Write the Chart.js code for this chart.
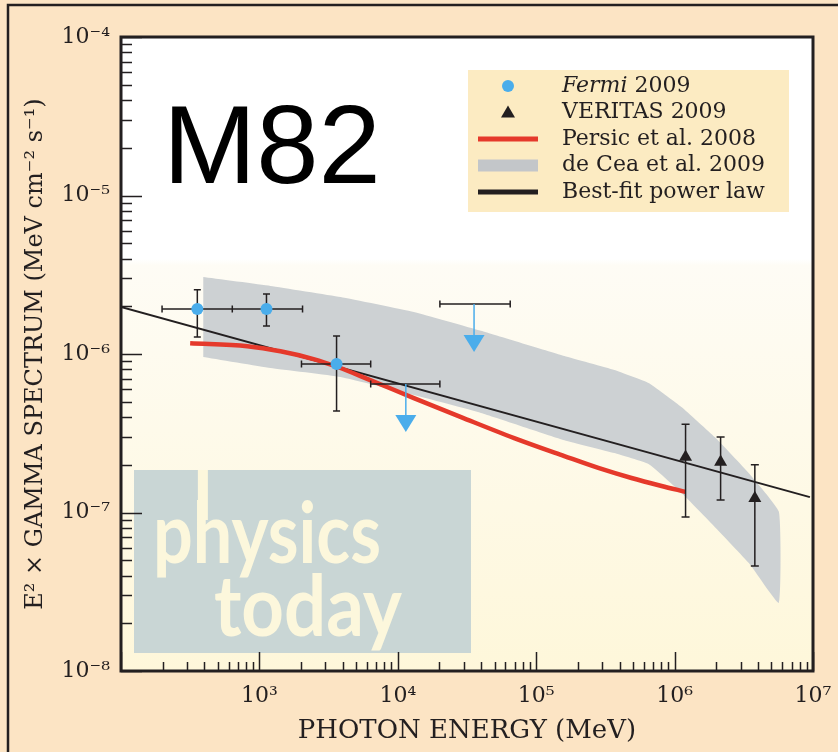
<!DOCTYPE html>
<html>
<head>
<meta charset="utf-8">
<title>M82 gamma-ray spectrum</title>
<script src="https://cdn.jsdelivr.net/npm/chart.js@4.4.1/dist/chart.umd.min.js"></script>
<style>
  html, body { margin: 0; padding: 0; background: #fce4c4; }
  #m82-spectrum { display: block; }
</style>
</head>
<body>
<canvas id="m82-spectrum" width="838" height="752"></canvas>
<script>
// axis ticks
const xTickValues = [1e2, 1e3, 1e4, 1e5, 1e6, 1e7];
const xTickLabels = ["", "10³", "10⁴", "10⁵", "10⁶", "10⁷"];
const yTickValues = [1e-8, 1e-7, 1e-6, 1e-5, 1e-4];
const yTickLabels = ["10⁻⁸", "10⁻⁷", "10⁻⁶", "10⁻⁵", "10⁻⁴"];

// Fermi 2009 points (MeV, MeV cm^-2 s^-1)
const fermiE = [356, 1125, 3610];
const fermiF = [1.92e-6, 1.92e-6, 8.65e-7];
const fermiELo = [198, 637, 2014];
const fermiEHi = [637, 2050, 6370];
const fermiFLo = [1.28e-6, 1.5e-6, 4.37e-7];
const fermiFHi = [2.54e-6, 2.39e-6, 1.3e-6];

// Fermi upper limits
const limitE = [11430, 35560];
const limitF = [6.47e-7, 2.07e-6];
const limitELo = [6370, 20140];
const limitEHi = [20140, 64900];

// VERITAS 2009 points
const veritasE = [1.2e6, 2.15e6, 3.8e6];
const veritasF = [2.24e-7, 2.08e-7, 1.23e-7];
const veritasFLo = [9.38e-8, 1.2e-7, 4.59e-8];
const veritasFHi = [3.61e-7, 2.99e-7, 2.0e-7];

// Persic et al. 2008 model
const persicE = [316, 818, 1419, 2460, 3670, 6070, 13060, 28640, 69300, 1.596e5, 2.81e5, 4.88e5, 8.05e5, 1.2e6];
const persicF = [1.17e-6, 1.12e-6, 1.04e-6, 9.29e-7, 8.28e-7, 6.95e-7, 5.27e-7, 4.0e-7, 2.95e-7, 2.27e-7, 1.91e-7, 1.65e-7, 1.47e-7, 1.35e-7];

// de Cea et al. 2009 band
const bandE = [393, 1202, 3860, 13060, 39900, 1.6e5, 3.67e5, 6.48e5, 1.12e6, 1.95e6, 3.44e6, 5.67e6];
const bandHi = [3.06e-6, 2.69e-6, 2.29e-6, 1.84e-6, 1.4e-6, 9.7e-7, 7.92e-7, 6.56e-7, 4.63e-7, 2.99e-7, 1.77e-7, 1.01e-7];
const bandLo = [9.57e-7, 8.16e-7, 7.16e-7, 5.51e-7, 4.25e-7, 2.86e-7, 2.37e-7, 2.02e-7, 1.33e-7, 8.11e-8, 4.8e-8, 2.69e-8];

// best-fit power law
const fitE = [1e2, 9.5e6];
const fitF = [1.98e-6, 1.25e-7];

const INK = "#231f20";
const BLUE = "#4aadeb";
const RED = "#e5392b";
const GREY = "#cdd1d3";
const SERIF = "'DejaVu Serif', serif";

const toPoints = (xs, ys) => xs.map((x, i) => ({ x, y: ys[i] }));

// inward log ticks along the left and bottom frame
const drawInwardTicks = (ctx, scale, area, horizontal, majorLen, minorLen) => {
  const lo = Math.round(Math.log10(scale.min));
  const hi = Math.round(Math.log10(scale.max));
  ctx.beginPath();
  for (let d = lo; d <= hi; d++) {
    for (let m = 1; m <= 9; m++) {
      const v = m * Math.pow(10, d);
      if (v > scale.max * 1.001) continue;
      const p = Math.round(scale.getPixelForValue(v)) + 0.5;
      const len = m === 1 ? majorLen : minorLen;
      if (horizontal) {
        ctx.moveTo(p, area.bottom);
        ctx.lineTo(p, area.bottom - len);
      } else {
        ctx.moveTo(area.left, p);
        ctx.lineTo(area.left + len, p);
      }
    }
  }
  ctx.stroke();
};

const drawErrorBars = (chart) => {
  const { ctx } = chart;
  const xs = chart.scales.x;
  const ys = chart.scales.y;
  ctx.save();
  ctx.strokeStyle = INK;
  ctx.lineWidth = 1.5;
  ctx.beginPath();
  const vBar = (x, y0, y1, cap) => {
    const px = xs.getPixelForValue(x);
    const p0 = ys.getPixelForValue(y0);
    const p1 = ys.getPixelForValue(y1);
    ctx.moveTo(px, p0); ctx.lineTo(px, p1);
    ctx.moveTo(px - cap, p0); ctx.lineTo(px + cap, p0);
    ctx.moveTo(px - cap, p1); ctx.lineTo(px + cap, p1);
  };
  const hBar = (x0, x1, y, cap) => {
    const py = ys.getPixelForValue(y);
    const p0 = xs.getPixelForValue(x0);
    const p1 = xs.getPixelForValue(x1);
    ctx.moveTo(p0, py); ctx.lineTo(p1, py);
    ctx.moveTo(p0, py - cap); ctx.lineTo(p0, py + cap);
    ctx.moveTo(p1, py - cap); ctx.lineTo(p1, py + cap);
  };
  fermiE.forEach((e, i) => {
    vBar(e, fermiFLo[i], fermiFHi[i], 3.5);
    hBar(fermiELo[i], fermiEHi[i], fermiF[i], 3.5);
  });
  veritasE.forEach((e, i) => vBar(e, veritasFLo[i], veritasFHi[i], 4));
  limitE.forEach((e, i) => hBar(limitELo[i], limitEHi[i], limitF[i], 3.5));
  ctx.stroke();

  // upper limit arrows
  limitE.forEach((e, i) => {
    const px = xs.getPixelForValue(e);
    const py = ys.getPixelForValue(limitF[i]);
    ctx.strokeStyle = BLUE;
    ctx.fillStyle = BLUE;
    ctx.beginPath();
    ctx.moveTo(px, py);
    ctx.lineTo(px, py + 34);
    ctx.stroke();
    ctx.beginPath();
    ctx.moveTo(px - 10.5, py + 31);
    ctx.lineTo(px + 10.5, py + 31);
    ctx.lineTo(px, py + 48);
    ctx.closePath();
    ctx.fill();
  });
  ctx.restore();
};

const drawWatermark = (ctx, area) => {
  const x0 = area.left + 13;
  const y0 = area.bottom - 201;
  ctx.save();
  ctx.fillStyle = "#c9d6d5";
  ctx.fillRect(x0, y0, 337, 183);
  ctx.beginPath();
  ctx.rect(x0, y0, 337, 183);
  ctx.clip();
  ctx.fillStyle = "#fcf7dc";
  ctx.font = "bold 84px Lato, 'Open Sans', sans-serif";
  ctx.textBaseline = "alphabetic";
  const drawWord = (word, x, y, width) => {
    const sx = width / ctx.measureText(word).width;
    ctx.save();
    ctx.translate(x, y);
    ctx.scale(sx, 1);
    ctx.fillText(word, 0, 0);
    ctx.restore();
    return sx;
  };
  const sx = drawWord("physics", x0 + 19, y0 + 93, 228);
  const stemX = x0 + 19 + sx * (ctx.measureText("p").width + 6);
  ctx.fillRect(stemX, y0, 10, 50);
  drawWord("today", x0 + 80, y0 + 166, 188);
  ctx.restore();
};

const drawLegend = (ctx, area) => {
  const bx = area.right - 345;
  const by = area.top + 33;
  ctx.save();
  ctx.fillStyle = "#fcebc2";
  ctx.fillRect(bx, by, 321, 142);
  const mx = bx + 40;
  const tx = bx + 94;
  const rowY = (i) => by + 16 + i * 26.5;
  ctx.font = "22px " + SERIF;
  ctx.textBaseline = "middle";
  ctx.fillStyle = INK;

  // Fermi
  ctx.fillStyle = BLUE;
  ctx.beginPath();
  ctx.arc(mx, rowY(0), 6, 0, Math.PI * 2);
  ctx.fill();
  ctx.fillStyle = INK;
  ctx.font = "italic 22px " + SERIF;
  ctx.fillText("Fermi", tx, rowY(0));
  const w = ctx.measureText("Fermi").width;
  ctx.font = "22px " + SERIF;
  ctx.fillText(" 2009", tx + w, rowY(0));

  // VERITAS
  ctx.beginPath();
  ctx.moveTo(mx, rowY(1) - 7);
  ctx.lineTo(mx + 7, rowY(1) + 5);
  ctx.lineTo(mx - 7, rowY(1) + 5);
  ctx.closePath();
  ctx.fill();
  ctx.fillText("VERITAS 2009", tx, rowY(1));

  // Persic
  ctx.fillStyle = RED;
  ctx.fillRect(mx - 30, rowY(2) - 2.5, 60, 5);
  ctx.fillStyle = INK;
  ctx.fillText("Persic et al. 2008", tx, rowY(2));

  // de Cea
  ctx.fillStyle = "#c3c6c9";
  ctx.fillRect(mx - 30, rowY(3) - 6, 60, 12);
  ctx.fillStyle = INK;
  ctx.fillText("de Cea et al. 2009", tx, rowY(3));

  // best fit
  ctx.fillRect(mx - 30, rowY(4) - 2.5, 60, 5);
  ctx.fillText("Best-fit power law", tx, rowY(4));
  ctx.restore();
};

const spectrumPlugin = {
  id: "spectrumDecor",
  beforeDraw: (chart) => {
    const { ctx, chartArea: area } = chart;
    ctx.save();
    ctx.fillStyle = "#fce4c4";
    ctx.fillRect(0, 0, chart.width, chart.height);
    ctx.strokeStyle = INK;
    ctx.lineWidth = 2.5;
    ctx.beginPath();
    ctx.moveTo(8, chart.height);
    ctx.lineTo(8, 5);
    ctx.lineTo(chart.width, 5);
    ctx.stroke();
    const grad = ctx.createLinearGradient(0, area.top, 0, area.bottom);
    grad.addColorStop(0, "#ffffff");
    grad.addColorStop(0.35, "#ffffff");
    grad.addColorStop(0.36, "#fefcf5");
    grad.addColorStop(1, "#fef7da");
    ctx.fillStyle = grad;
    ctx.fillRect(area.left, area.top, area.right - area.left, area.bottom - area.top);
    ctx.restore();
  },
  beforeDatasetsDraw: (chart) => {
    drawWatermark(chart.ctx, chart.chartArea);
  },
  afterDatasetDraw: (chart, args) => {
    if (args.index === 2) drawErrorBars(chart);
  },
  afterDatasetsDraw: (chart) => {
    const { ctx, chartArea: area } = chart;
    ctx.save();
    ctx.strokeStyle = INK;
    ctx.lineWidth = 1.5;
    drawInwardTicks(ctx, chart.scales.x, area, true, 19, 9);
    drawInwardTicks(ctx, chart.scales.y, area, false, 21, 11);
    ctx.lineWidth = 3;
    ctx.strokeRect(area.left, area.top, area.right - area.left, area.bottom - area.top);

    ctx.fillStyle = "#000";
    ctx.font = "112px 'Liberation Sans', Arial, sans-serif";
    ctx.textBaseline = "alphabetic";
    ctx.fillText("M82", area.left + 42, area.top + 146);
    ctx.restore();
    drawLegend(ctx, area);
  },
};

// gamma spectrum chart
const setupSpectrumChart = () => {
  try {
    const data = {
      datasets: [
        {
          label: "Fermi 2009",
          data: toPoints(fermiE, fermiF),
          pointStyle: "circle",
          pointRadius: 6,
          pointBackgroundColor: BLUE,
          pointBorderWidth: 0,
        },
        {
          label: "VERITAS 2009",
          data: toPoints(veritasE, veritasF),
          pointStyle: "triangle",
          pointRadius: 7.5,
          pointBackgroundColor: INK,
          pointBorderColor: INK,
          pointBorderWidth: 0,
        },
        {
          label: "Persic et al. 2008",
          data: toPoints(persicE, persicF),
          showLine: true,
          borderColor: RED,
          borderWidth: 4.5,
          pointRadius: 0,
          cubicInterpolationMode: "monotone",
        },
        {
          label: "Best-fit power law",
          data: toPoints(fitE, fitF),
          showLine: true,
          borderColor: INK,
          borderWidth: 2,
          pointRadius: 0,
        },
        {
          label: "de Cea et al. 2009",
          data: toPoints(bandE, bandHi).concat(toPoints(bandE, bandLo).reverse()),
          showLine: true,
          fill: "shape",
          backgroundColor: GREY,
          borderColor: GREY,
          borderWidth: 0,
          pointRadius: 0,
          tension: 0.12,
        },
      ],
    };

    const config = {
      type: "scatter",
      data,
      options: {
        responsive: false,
        animation: false,
        events: [],
        layout: { padding: { top: 37, right: 25, left: 0, bottom: 0 } },
        plugins: {
          legend: { display: false },
          tooltip: { enabled: false },
        },
        scales: {
          x: {
            type: "logarithmic",
            min: 1e2,
            max: 1e7,
            afterBuildTicks: (scale) => {
              scale.ticks = xTickValues.map((v) => ({ value: v }));
            },
            afterFit: (scale) => {
              scale.height = 81;
              scale.paddingLeft = 0;
              scale.paddingRight = 0;
            },
            grid: { display: false, drawTicks: false },
            border: { display: false },
            ticks: {
              autoSkip: false,
              maxRotation: 0,
              padding: 12,
              color: INK,
              font: { family: SERIF, size: 22 },
              callback: (value, index) => xTickLabels[index],
            },
            title: {
              display: true,
              text: "PHOTON ENERGY (MeV)",
              color: INK,
              font: { family: SERIF, size: 26 },
              padding: { top: 0, bottom: 5 },
            },
          },
          y: {
            type: "logarithmic",
            min: 1e-8,
            max: 1e-4,
            afterBuildTicks: (scale) => {
              scale.ticks = yTickValues.map((v) => ({ value: v }));
            },
            afterFit: (scale) => {
              scale.width = 121;
              scale.paddingTop = 0;
              scale.paddingBottom = 0;
            },
            grid: { display: false, drawTicks: false },
            border: { display: false },
            ticks: {
              autoSkip: false,
              padding: 11,
              color: INK,
              font: { family: SERIF, size: 22 },
              callback: (value, index) => yTickLabels[index],
            },
            title: {
              display: true,
              text: "E² × GAMMA SPECTRUM (MeV cm⁻² s⁻¹)",
              color: INK,
              font: { family: SERIF, size: 24 },
              padding: { top: 21, bottom: 0 },
            },
          },
        },
      },
      plugins: [spectrumPlugin],
    };

    const spectrumChart = new Chart(document.getElementById("m82-spectrum"), config);
  } catch (e) {
    console.error(e);
  }
};
// end gamma spectrum chart

setupSpectrumChart();
</script>
</body>
</html>
